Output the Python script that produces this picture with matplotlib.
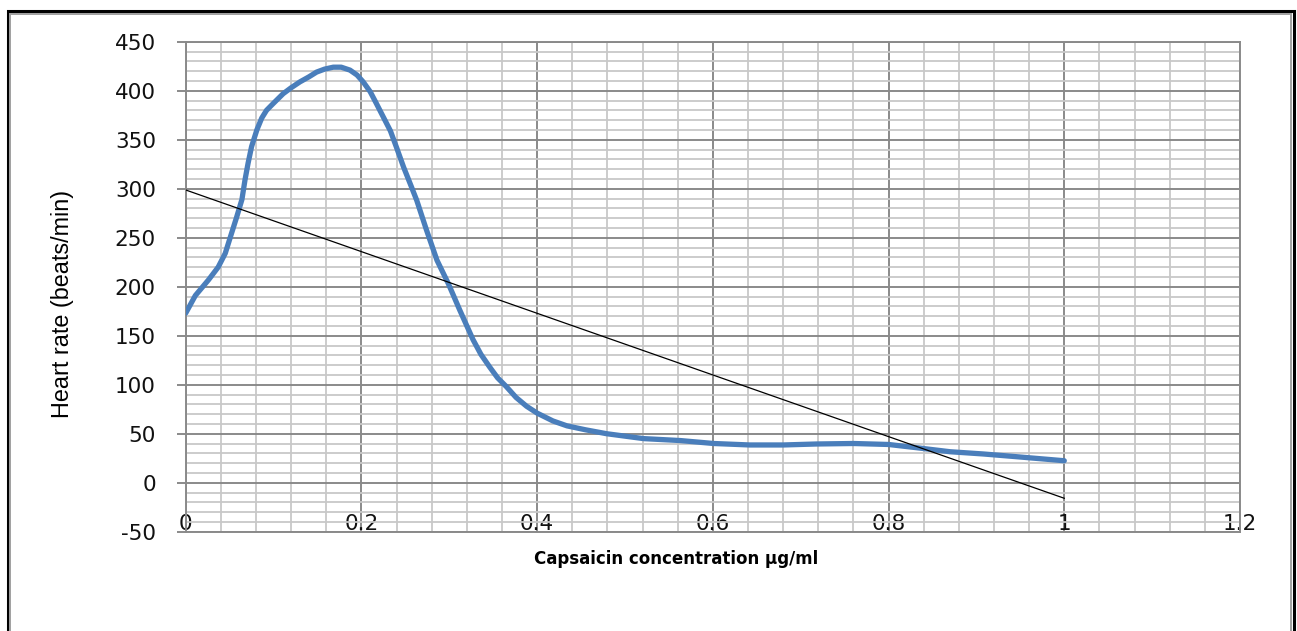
import matplotlib
matplotlib.use('Agg')
import matplotlib.pyplot as plt
from matplotlib.patches import Rectangle
import numpy as np

plt.rcParams['axes.unicode_minus'] = False

# Heart rate readings
conc = [0, 0.011, 0.026, 0.037, 0.045, 0.052, 0.058, 0.064, 0.0675, 0.071,
        0.075, 0.081, 0.0865, 0.092, 0.0997, 0.111, 0.120, 0.130, 0.140, 0.149,
        0.158, 0.168, 0.177, 0.187, 0.195, 0.202, 0.210, 0.217, 0.225, 0.233,
        0.240, 0.248, 0.256, 0.263, 0.274, 0.286, 0.299, 0.312, 0.327, 0.336,
        0.346, 0.355, 0.365, 0.376, 0.388, 0.400, 0.418, 0.434, 0.455, 0.479,
        0.521, 0.563, 0.601, 0.642, 0.680, 0.718, 0.760, 0.800, 0.832, 0.870,
        0.908, 0.946, 1.0]
heart_rate = [173, 191, 207, 220, 234, 254, 271, 289, 309, 326,
              343, 360, 372, 380, 387, 397, 403, 409, 414, 419,
              422, 424, 424, 421, 416, 409, 399, 387, 373, 359,
              342, 322, 304, 288, 258, 227, 203, 176, 146, 131,
              118, 107, 98, 87, 78, 71, 63, 58, 54, 50,
              45, 43, 40, 38.5, 38.5, 39.5, 40, 39, 35.7, 31.6,
              29.3, 26.5, 22.4]

# linear trend line end points
trend_x = [0, 1]
trend_y = [298.7, -15.9]

x_ticks = [0, 0.2, 0.4, 0.6, 0.8, 1, 1.2]
x_tick_labels = ['0', '0.2', '0.4', '0.6', '0.8', '1', '1.2']
y_ticks = [-50, 0, 50, 100, 150, 200, 250, 300, 350, 400, 450]

W, H = 1297, 631
fig = plt.figure(figsize=(W / 100, H / 100), dpi=100)

# outer frame (black + grey inner line), bottom runs off the picture
fig.add_artist(Rectangle((7.5 / W, 1 - 650 / H), (1293.5 - 7.5) / W, (650 - 11.5) / H,
                         transform=fig.transFigure, fill=False, ec='black', lw=2.2))
fig.add_artist(Rectangle((10 / W, 1 - 650 / H), (1290.5 - 10) / W, (650 - 14) / H,
                         transform=fig.transFigure, fill=False, ec='#a0a0a0', lw=1.4))

ax = fig.add_axes([185.7 / W, 1 - 531.7 / H, (1240 - 185.7) / W, (531.7 - 41.7) / H])

ax.plot(conc, heart_rate, color='#4a7ebb', lw=3.8, solid_capstyle='round',
        solid_joinstyle='round', zorder=3)
ax.plot(trend_x, trend_y, color='black', lw=0.9, zorder=4)

ax.set_xlim(0, 1.2)
ax.set_ylim(-50, 450)
ax.set_xticks(x_ticks)
ax.set_xticklabels(x_tick_labels)
ax.set_xticks(np.arange(0, 1.2001, 0.04), minor=True)
ax.set_yticks(y_ticks)
ax.set_yticks(np.arange(-50, 450.1, 10), minor=True)

ax.grid(True, which='major', color='#8a8a8a', lw=1.4)
ax.grid(True, which='minor', color='#c8c8c8', lw=1.3)
ax.set_axisbelow(True)

for s in ax.spines.values():
    s.set_color('#8a8a8a')
    s.set_linewidth(1.4)

ax.tick_params(axis='y', which='major', length=6.5, width=1.4, color='#8a8a8a',
               pad=15, labelsize=15.5, labelcolor='#111111')
ax.tick_params(axis='x', which='major', length=0, pad=-1, labelsize=15.5,
               labelcolor='#111111')
ax.tick_params(which='minor', length=0)
plt.setp(ax.get_xticklabels(), va='baseline')

ax.set_ylabel('Heart rate (beats/min)', fontsize=16.8, family='Liberation Sans')
ax.yaxis.set_label_coords(-0.106, 0.465)
ax.set_xlabel('Capsaicin concentration µg/ml', fontsize=12, fontweight='bold')
ax.xaxis.set_label_coords(0.465, -0.037)

plt.savefig('out.png', dpi=100)
plt.close()
